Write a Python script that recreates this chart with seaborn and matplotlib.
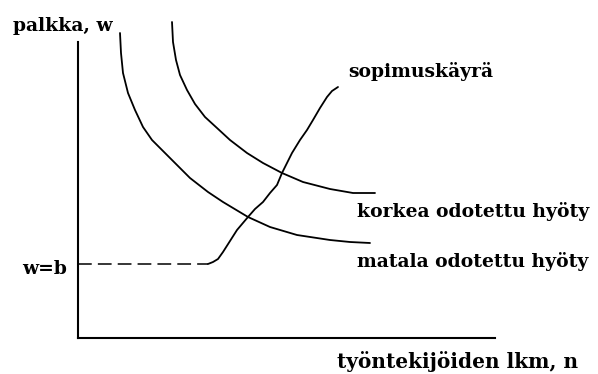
import matplotlib
matplotlib.use("Agg")
import matplotlib.pyplot as plt
import seaborn as sns
import pandas as pd

W, H = 598, 374

# curves (x: n, y: w), in axis units
low_x = [42, 43, 45, 50, 57, 65, 74, 84, 97, 112, 130, 145, 170, 192, 219, 252, 272, 292]
low_y = [305, 285, 265, 245, 228, 211, 198, 188, 175, 160, 146, 136, 121, 111, 103, 98, 96, 95]

high_x = [94, 95, 98, 102, 109, 117, 127, 139, 152, 169, 185, 204, 225, 252, 275, 297]
high_y = [316, 296, 278, 263, 248, 234, 221, 210, 198, 185, 175, 165, 156, 149, 145, 145]

contract_x = [130, 135, 140, 145, 152, 159, 170, 177, 185, 192, 199, 204, 209,
              214, 222, 229, 235, 242, 249, 254, 260]
contract_y = [74, 76, 79, 86, 97, 108, 121, 129, 136, 145, 153, 165, 175,
              185, 198, 208, 218, 230, 241, 247, 251]

floor_x = [0, 130]
floor_y = [74, 74]

sns.set_theme(style="white")
plt.rcParams["font.family"] = ["DejaVu Serif"]

fig = plt.figure(figsize=(W / 100, H / 100), dpi=100)
ax = fig.add_axes([78 / W, 36 / H, (W - 78) / W, 338 / H])
ax.set_xlim(0, W - 78)
ax.set_ylim(0, 338)

lw = 1.3
for xs, ys in [(low_x, low_y), (high_x, high_y), (contract_x, contract_y)]:
    df = pd.DataFrame({"n": xs, "w": ys})
    sns.lineplot(data=df, x="n", y="w", sort=False, estimator=None,
                 color="black", lw=lw, ax=ax, clip_on=False,
                 solid_joinstyle="round", solid_capstyle="round")
df = pd.DataFrame({"n": floor_x, "w": floor_y})
sns.lineplot(data=df, x="n", y="w", sort=False, estimator=None,
             color="black", lw=1.1, ax=ax, linestyle=(0, (9, 4)))

for s in ["top", "right"]:
    ax.spines[s].set_visible(False)
for s in ["left", "bottom"]:
    ax.spines[s].set_color("black")
    ax.spines[s].set_linewidth(1.5)
ax.spines["left"].set_bounds(0, 296)
ax.spines["bottom"].set_bounds(0, 417)
ax.set_xticks([])
ax.set_yticks([])
ax.set_xlabel("")
ax.set_ylabel("")
ax.patch.set_alpha(0)

def t(x, y, s, size=13.5):
    fig.text(x / W, 1 - y / H, s, ha="left", va="baseline",
             fontsize=size, fontweight="bold", color="black")

t(13, 31, "palkka, w")
t(348, 77, "sopimuskäyrä")
t(357, 217, "korkea odotettu hyöty")
t(357, 267, "matala odotettu hyöty")
t(22, 274, "w=b")
t(337, 368, "työntekijöiden lkm, n", size=14.5)

fig.savefig("out.png", dpi=100)
